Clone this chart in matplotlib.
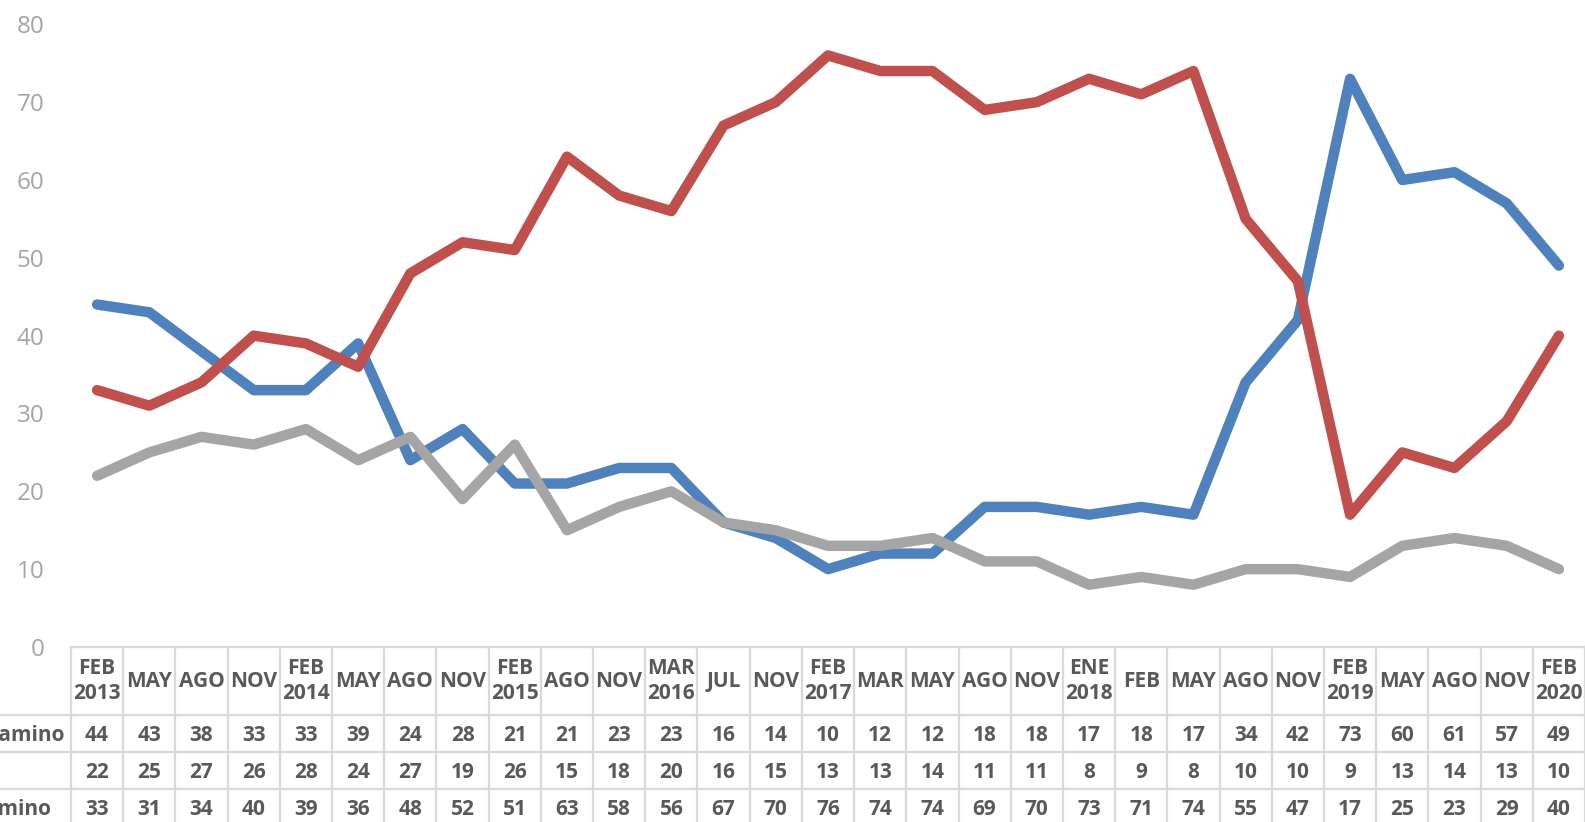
import matplotlib
matplotlib.use("Agg")
import matplotlib.pyplot as plt

plt.rcParams['font.family'] = ['Open Sans', 'DejaVu Sans']

# data
periods = ["FEB\n2013", "MAY", "AGO", "NOV", "FEB\n2014", "MAY", "AGO", "NOV",
           "FEB\n2015", "AGO", "NOV", "MAR\n2016", "JUL", "NOV", "FEB\n2017",
           "MAR", "MAY", "AGO", "NOV", "ENE\n2018", "FEB", "MAY", "AGO", "NOV",
           "FEB\n2019", "MAY", "AGO", "NOV", "FEB\n2020"]
buen_camino = [44, 43, 38, 33, 33, 39, 24, 28, 21, 21, 23, 23, 16, 14, 10,
               12, 12, 18, 18, 17, 18, 17, 34, 42, 73, 60, 61, 57, 49]
ns_nc = [22, 25, 27, 26, 28, 24, 27, 19, 26, 15, 18, 20, 16, 15, 13,
         13, 14, 11, 11, 8, 9, 8, 10, 10, 9, 13, 14, 13, 10]
mal_camino = [33, 31, 34, 40, 39, 36, 48, 52, 51, 63, 58, 56, 67, 70, 76,
              74, 74, 69, 70, 73, 71, 74, 55, 47, 17, 25, 23, 29, 40]
row_labels = ["Va por buen camino", "NS/NC", "Va por mal camino"]
colors = ["#4F81BD", "#A5A5A5", "#C0504D"]
series = [buen_camino, ns_nc, mal_camino]

W, H = 1585, 822
fig = plt.figure(figsize=(W / 100, H / 100), dpi=100)

left_px, right_px = 71, 1585
top_px, zero_px = 24.3, 647
ax = fig.add_axes([left_px / W, (H - zero_px) / H,
                   (right_px - left_px) / W, (zero_px - top_px) / H])
x = list(range(len(periods)))
for vals, c in zip(series, colors):
    ax.plot(x, vals, color=c, lw=7.5, solid_capstyle='round',
            solid_joinstyle='round', clip_on=False)
ax.set_xlim(-0.5, len(periods) - 0.5)
ax.set_ylim(0, 80)
ax.set_yticks(range(0, 81, 10))
ax.set_xticks([])
ax.tick_params(axis='y', length=0, pad=19, labelsize=17.5, labelcolor='#A5A5A5')
for s in ax.spines.values():
    s.set_visible(False)

# data table below the plot
tab = fig.add_axes([left_px / W, 0, (right_px - left_px) / W, (H - zero_px) / H])
tab.set_xlim(-0.5, len(periods) - 0.5)
tab.set_ylim(H - zero_px, 0)
tab.axis('off')
grid = dict(color='#D9D9D9', lw=1.6, clip_on=False)
row_edges = [0, 68, 105, 142, 179]
n = len(periods)
tab.plot([-0.5, n - 0.5], [0, 0], **grid)
for yb in row_edges[1:]:
    tab.plot([-4.5, n - 0.5], [yb, yb], **grid)
for i in range(n + 1):
    tab.plot([i - 0.5, i - 0.5], [0, 180], **grid)

txt = dict(color='#595959', fontsize=15, fontweight='bold', ha='center', va='center')
for i, p in enumerate(periods):
    tab.text(i, 34, p, linespacing=1.3, **txt)
row_y = [88, 125, 162]
for r, vals in enumerate(series):
    for i, v in enumerate(vals):
        tab.text(i, row_y[r], str(v), **txt)

# row headers: left-aligned, first one ending just before the first column
fig.canvas.draw()
renderer = fig.canvas.get_renderer()
first = tab.text(-0.63, row_y[0], row_labels[0], color='#595959', fontsize=15,
                 fontweight='bold', ha='right', va='center', clip_on=False)
bb = first.get_window_extent(renderer).transformed(tab.transData.inverted())
for r in (1, 2):
    tab.text(bb.x0, row_y[r], row_labels[r], color='#595959', fontsize=15,
             fontweight='bold', ha='left', va='center', clip_on=False)

fig.savefig("out.png", dpi=100)
